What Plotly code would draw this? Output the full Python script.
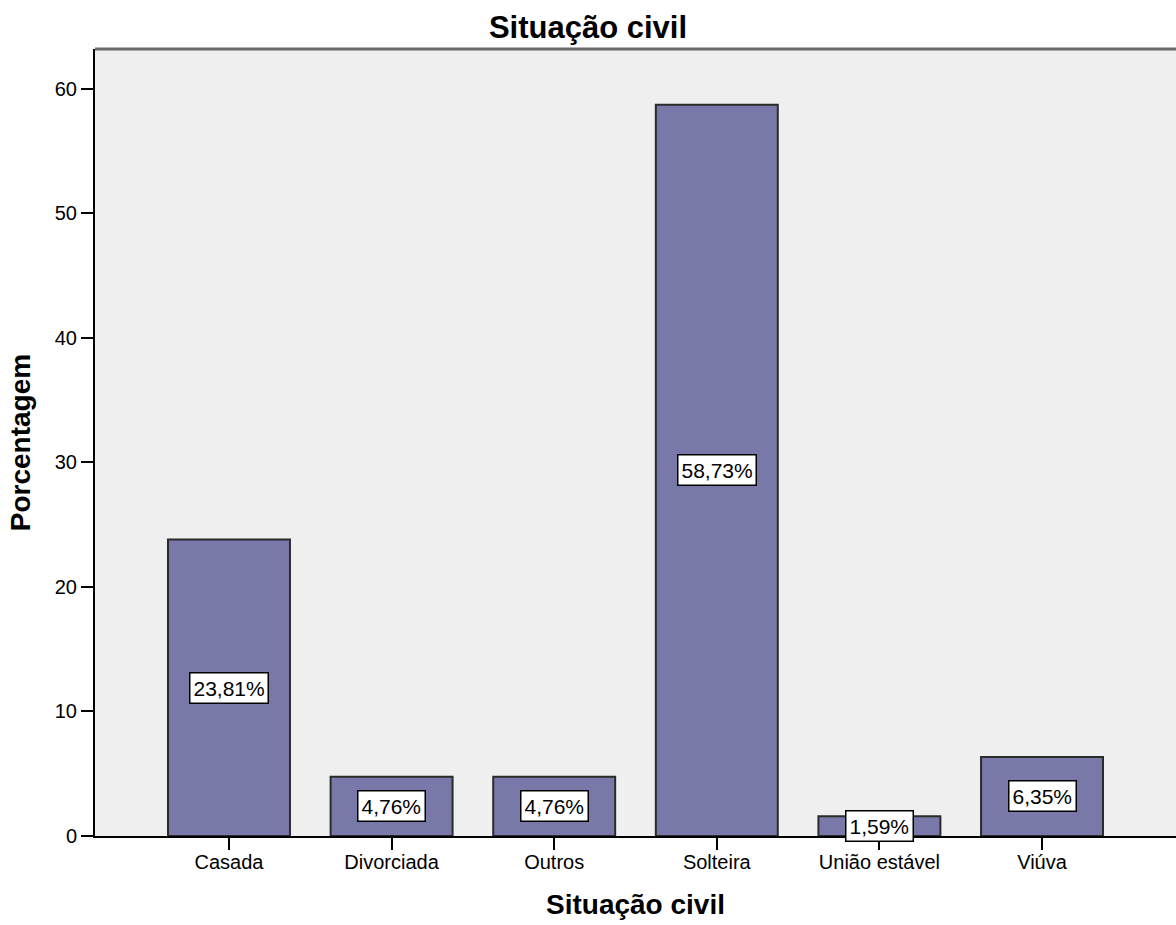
import plotly.graph_objects as go

categories = ["Casada", "Divorciada", "Outros", "Solteira", "União estável", "Viúva"]
percentages = [23.81, 4.76, 4.76, 58.73, 1.59, 6.35]
y_ticks = [0, 10, 20, 30, 40, 50, 60]

FONT = "Liberation Sans, Arial, sans-serif"
BAR_COLOR = "#7979a9"

xs = list(range(len(categories)))

fig = go.Figure(
    go.Bar(
        x=xs,
        y=percentages,
        width=0.75,
        marker=dict(color=BAR_COLOR, line=dict(color="#2b2b2b", width=2)),
        hoverinfo="skip",
    )
)

# value boxes, centred half-way up each bar
for x, v in zip(xs, percentages):
    label = f"{v:.2f}".replace(".", ",") + "%"
    fig.add_annotation(
        x=x, y=v / 2, xref="x", yref="y",
        text=label, showarrow=False,
        font=dict(family=FONT, size=21, color="black"),
        bgcolor="white", bordercolor="black", borderwidth=1.5, borderpad=3,
        xanchor="center", yanchor="middle",
    )

# top frame line of the plot area
fig.add_shape(
    type="line", xref="paper", yref="paper", x0=0, x1=1, y0=1, y1=1,
    line=dict(color="#6a6a6a", width=3),
)

fig.update_layout(
    width=1176,
    height=925,
    margin=dict(l=95, r=0, t=49, b=89),
    paper_bgcolor="white",
    plot_bgcolor="#efefef",
    showlegend=False,
    title=dict(
        text="<b>Situação civil</b>",
        x=0.5, xanchor="center", xref="container",
        y=1 - 27 / 925, yanchor="middle", yref="container",
        font=dict(family=FONT, size=31, color="black"),
    ),
    xaxis=dict(
        range=[-0.824, 5.824],
        tickmode="array",
        tickvals=xs,
        ticktext=categories,
        ticks="outside", ticklen=12, tickwidth=2, tickcolor="black",
        ticklabelstandoff=-5,
        showline=True, linecolor="black", linewidth=2,
        showgrid=False, zeroline=False,
        tickfont=dict(family=FONT, size=20, color="black"),
        title=dict(text="<b>Situação civil</b>", standoff=22,
                   font=dict(family=FONT, size=28, color="black")),
    ),
    yaxis=dict(
        range=[0, 63.2],
        tickmode="array",
        tickvals=y_ticks,
        ticks="outside", ticklen=12, tickwidth=2, tickcolor="black",
        showline=True, linecolor="black", linewidth=2,
        showgrid=False, zeroline=False,
        tickfont=dict(family=FONT, size=20, color="black"),
        title=dict(text="<b>Porcentagem</b>", standoff=16,
                   font=dict(family=FONT, size=28, color="black")),
    ),
)

fig.write_html("out.html")
